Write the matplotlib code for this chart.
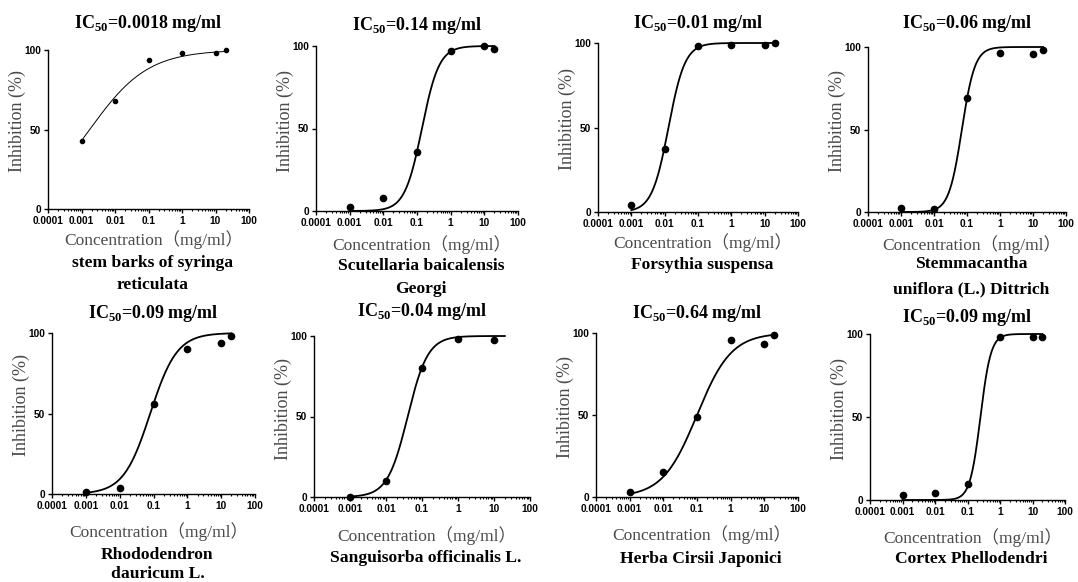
import numpy as np
import matplotlib
matplotlib.use("Agg")
import matplotlib.pyplot as plt
from matplotlib.ticker import FixedLocator, FixedFormatter, LogLocator, NullFormatter

plt.rcParams["mathtext.fontset"] = "custom"
plt.rcParams["mathtext.rm"] = "Liberation Serif:bold"
plt.rcParams["mathtext.bf"] = "Liberation Serif:bold"

# ---------------- data ----------------
ic50_labels = ["0.0018", "0.14", "0.01", "0.06", "0.09", "0.04", "0.64", "0.09"]
species_names = [
    ["stem barks of syringa", "reticulata"],
    ["Scutellaria baicalensis", "Georgi"],
    ["Forsythia suspensa"],
    ["Stemmacantha", "uniflora (L.) Dittrich"],
    ["Rhododendron", "dauricum L."],
    ["Sanguisorba officinalis L."],
    ["Herba Cirsii Japonici"],
    ["Cortex Phellodendri"],
]
conc = [0.001, 0.01, 0.1, 1, 10, 20]
conc_sanguisorba = [0.001, 0.01, 0.1, 1, 10]

inh_syringa = [43, 68, 94, 98, 98, 100]
inh_scutellaria = [2.4, 8, 36, 97, 100, 98]
inh_forsythia = [4, 37, 98, 99, 99, 100]
inh_stemmacantha = [2.5, 2, 69, 96.5, 96, 98]
inh_rhododendron = [1.5, 4, 56, 90, 94, 98]
inh_sanguisorba = [0, 10, 80, 98, 97.5]
inh_cirsii = [3, 15, 49, 96, 93, 99]
inh_phellodendri = [3, 4.4, 9.5, 98, 98, 98]

# fitted four-parameter curve parameters (bottom 0, top 100)
fit_ec50 = [0.00176, 0.14, 0.013, 0.07, 0.08, 0.04, 0.1, 0.25]
fit_hill = [0.5, 1.7, 1.75, 2.2, 1.1, 1.55, 0.85, 2.7]

x_ticks = [0.0001, 0.001, 0.01, 0.1, 1, 10, 100]
x_tick_labels = ["0.0001", "0.001", "0.01", "0.1", "1", "10", "100"]
y_ticks = [0, 50, 100]

panel_x = [conc, conc, conc, conc, conc, conc_sanguisorba, conc, conc]
panel_y = [inh_syringa, inh_scutellaria, inh_forsythia, inh_stemmacantha,
           inh_rhododendron, inh_sanguisorba, inh_cirsii, inh_phellodendri]

# ---------------- layout (pixels) ----------------
W, H = 1078, 582
boxes = [  # x_left, x_right, y_top(100), y_bottom(0)
    (48, 249, 50, 209), (316, 518, 46, 211), (598, 798, 43, 212), (868, 1066, 47, 212),
    (52, 255, 333, 494), (314, 530, 336, 497), (596, 798, 333, 497), (870, 1065, 334, 500),
]
title_y = [23, 25, 23, 24, 313, 312, 313, 317]
xlab_y = [240, 245, 243, 245, 532, 536, 535, 538]
sp_y = [[261, 283], [264, 287], [263], [262, 287], [553, 572], [556], [557], [557]]

fig = plt.figure(figsize=(W / 100, H / 100), dpi=100)
fig.patch.set_facecolor("white")

grey = "#4a4a4a"
serif = ["Liberation Serif", "Noto Sans CJK SC"]

for i, (xl, xr, yt, yb) in enumerate(boxes):
    ax = fig.add_axes([xl / W, 1 - yb / H, (xr - xl) / W, (yb - yt) / H])
    ax.set_xscale("log")
    ax.set_xlim(1e-4, 100)
    ax.set_ylim(0, 100)
    for s in ["top", "right"]:
        ax.spines[s].set_visible(False)
    ax.spines["left"].set_linewidth(1.0)
    ax.spines["bottom"].set_linewidth(1.0)
    ax.xaxis.set_major_locator(FixedLocator(x_ticks))
    ax.xaxis.set_major_formatter(FixedFormatter(x_tick_labels))
    ax.xaxis.set_minor_locator(LogLocator(base=10, subs=np.arange(2, 10), numticks=20))
    ax.xaxis.set_minor_formatter(NullFormatter())
    ax.yaxis.set_major_locator(FixedLocator(y_ticks))
    ax.tick_params(axis="both", which="major", length=3, width=1.0, pad=2,
                   labelsize=7.3, direction="out")
    ax.tick_params(axis="x", which="minor", length=1.5, width=0.8, direction="out")
    for lab in ax.get_xticklabels() + ax.get_yticklabels():
        lab.set_fontweight("bold")
        lab.set_family("Liberation Sans")

    xs = np.array(panel_x[i], dtype=float)
    ys = np.array(panel_y[i], dtype=float)
    xx = np.logspace(np.log10(0.001), np.log10(20), 400)
    yy = 100.0 / (1 + 10 ** ((np.log10(fit_ec50[i]) - np.log10(xx)) * fit_hill[i]))
    thin = i == 0
    ax.plot(xx, yy, color="black", lw=0.7 if thin else 1.3, clip_on=False, zorder=3)
    ax.plot(xs, ys, "o", color="black", ms=3.0 if thin else 4.5, clip_on=False, zorder=4)

    cx = (xl + xr) / 2
    fig.text(cx / W, 1 - title_y[i] / H, r"IC$_{50}$=" + ic50_labels[i] + " mg/ml",
             ha="center", va="center", fontsize=13, fontweight="bold",
             family="Liberation Serif", color="black")
    fig.text((cx + 5) / W, 1 - (xlab_y[i] + 5) / H, "Concentration（mg/ml）",
             ha="center", va="baseline", fontsize=12.5, family=serif, color=grey)
    for line, ly in zip(species_names[i], sp_y[i]):
        fig.text((cx + 4) / W, 1 - (ly + 6) / H, line, ha="center", va="baseline",
                 fontsize=12.6, fontweight="bold", family="Liberation Serif", color="black")
    fig.text((xl - 31) / W, 1 - ((yt + yb) / 2 - 8) / H, "Inhibition (%)",
             ha="center", va="center", rotation=90, fontsize=13,
             family="Liberation Serif", color=grey)

fig.savefig("out.png", dpi=100, facecolor="white")
